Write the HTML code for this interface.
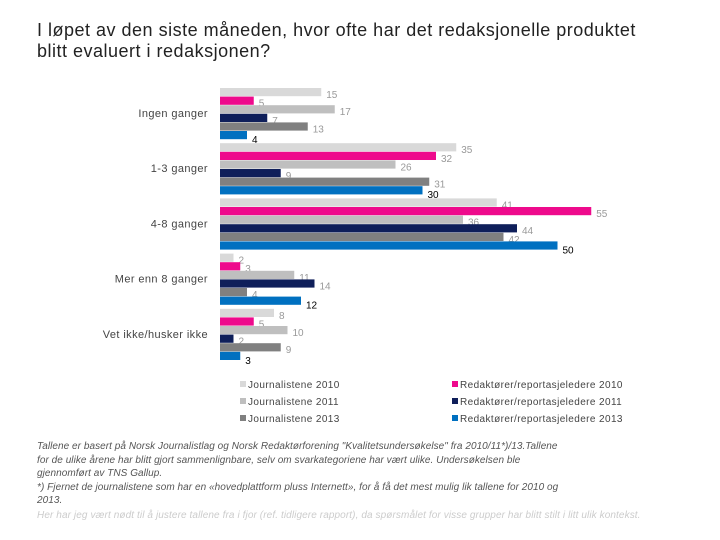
<!DOCTYPE html>
<html><head><meta charset="utf-8"><style>
body{margin:0;width:720px;height:540px;background:#fff;font-family:"Liberation Sans",sans-serif;overflow:hidden;position:relative}
.t{position:absolute;left:37px;top:20px;font-size:18px;line-height:21px;color:#222;letter-spacing:0.5px;white-space:nowrap}
.fn{position:absolute;left:37px;top:440px;font-size:10px;line-height:13.5px;color:#555;font-style:italic;letter-spacing:0.05px;width:560px}
.fn2{position:absolute;left:37px;top:510px;font-size:10px;color:#ccc;font-style:italic;letter-spacing:0.1px;white-space:nowrap}
</style></head><body>
<div class="t">I løpet av den siste måneden, hvor ofte har det redaksjonelle produktet<br>blitt evaluert i redaksjonen?</div>
<svg id="c" width="720" height="440" style="position:absolute;left:0;top:0"></svg>
<div class="fn">Tallene er basert på Norsk Journalistlag og Norsk Redaktørforening "Kvalitetsundersøkelse" fra 2010/11*)/13.Tallene<br>for de ulike årene har blitt gjort sammenlignbare, selv om svarkategoriene har vært ulike. Undersøkelsen ble<br>gjennomført av TNS Gallup.<br>*) Fjernet de journalistene som har en «hovedplattform pluss Internett», for å få det mest mulig lik tallene for 2010 og<br>2013.</div>
<div class="fn2">Her har jeg vært nødt til å justere tallene fra i fjor (ref. tidligere rapport), da spørsmålet for visse grupper har blitt stilt i litt ulik kontekst.</div>
<script>
const categories=["Ingen ganger","1-3 ganger","4-8 ganger","Mer enn 8 ganger","Vet ikke/husker ikke"];
const seriesNames=["Journalistene 2010","Redaktører/reportasjeledere 2010","Journalistene 2011","Redaktører/reportasjeledere 2011","Journalistene 2013","Redaktører/reportasjeledere 2013"];
const j2010=[15,35,41,2,8];
const r2010=[5,32,55,3,5];
const j2011=[17,26,36,11,10];
const r2011=[7,9,44,14,2];
const j2013=[13,31,42,4,9];
const r2013=[4,30,50,12,3];
const series=[j2010,r2010,j2011,r2011,j2013,r2013];
const colors=["#d9d9d9","#ee0a8c","#bfbfbf","#0f1f5a","#808080","#0070c0"];
const svg=document.getElementById('c');
const NS="http://www.w3.org/2000/svg";
const x0=220,k=6.75;
const xs=v=>x0+v*k;
const gy=g=>88+g*55.2;
function mk(t,a){const e=document.createElementNS(NS,t);for(const n in a)e.setAttribute(n,a[n]);svg.appendChild(e);return e;}
categories.forEach((c,g)=>{
  const l=mk('text',{x:208,y:gy(g)+29,'text-anchor':'end','font-size':11,fill:'#444','letter-spacing':0.4});
  l.textContent=c;
  
  
  series.forEach((s,i)=>{
    const y=gy(g)+i*8.6;
    const r=mk('rect',{x:x0,y:y,width:s[g]*k,height:8.2,fill:colors[i]});
    
    
    const t=mk('text',{x:xs(s[g])+5,y:y+(i==5?12:10),'font-size':10,fill:i==5?'#000':'#999'});
    t.textContent=s[g];
    
    
  });
});
seriesNames.forEach((n,i)=>{
  const col=i%2,row=Math.floor(i/2);
  const x=col?452:240,y=381+row*17;
  const r=mk('rect',{x:x,y:y,width:6,height:6,fill:colors[i]});
  
  
  const t=mk('text',{x:x+8,y:y+7,'font-size':10,fill:'#444','letter-spacing':0.4});
  t.textContent=n;
  
  
});
</script>
</body></html>
